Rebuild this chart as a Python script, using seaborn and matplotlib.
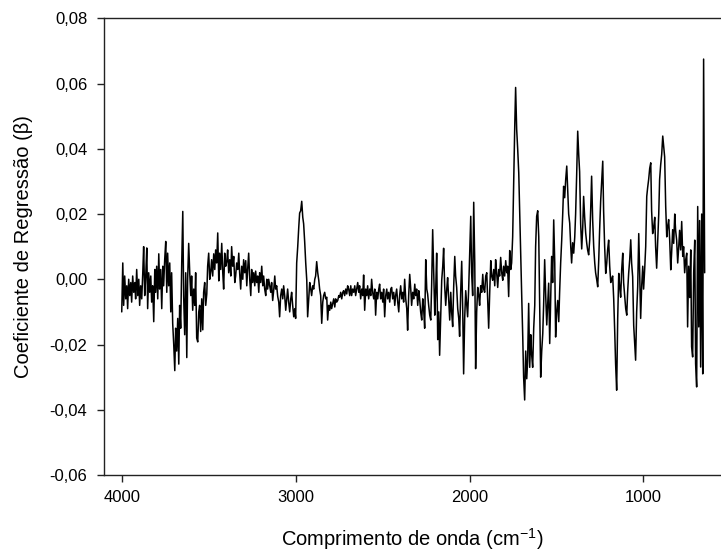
import matplotlib
matplotlib.use("Agg")
import matplotlib.pyplot as plt
import numpy as np
import pandas as pd
import seaborn as sns

# ---------------- data ----------------
# O-H / 4000-3000 region
wn_oh = [
    4000, 3994, 3989, 3983, 3977, 3971, 3966, 3960,
    3954, 3948, 3943, 3937, 3931, 3925, 3920, 3914,
    3908, 3902, 3897, 3891, 3885, 3879, 3874, 3868,
    3862, 3856, 3851, 3845, 3839, 3833, 3828, 3822,
    3816, 3810, 3805, 3799, 3793, 3787, 3782, 3776,
    3770, 3764, 3759, 3753, 3747, 3741, 3736, 3730,
    3724, 3718, 3713, 3707, 3701, 3695, 3690, 3684,
    3678, 3672, 3667, 3661, 3655, 3649, 3644, 3638,
    3632, 3626, 3621, 3615, 3609, 3603, 3598, 3592,
    3586, 3580, 3575, 3569, 3563, 3557, 3552, 3546,
    3540, 3534, 3529, 3523, 3517, 3511, 3506, 3500,
    3494, 3488, 3483, 3477, 3471, 3465, 3460, 3454,
    3448, 3442, 3437, 3431, 3425, 3419, 3414, 3408,
    3402, 3396, 3391, 3385, 3379, 3373, 3368, 3362,
    3356, 3350, 3345, 3339, 3333, 3327, 3322, 3316,
    3310, 3304, 3299, 3293, 3287, 3281, 3276, 3270,
    3264, 3258, 3253, 3247, 3241, 3235, 3230, 3224,
    3218, 3212, 3207, 3201, 3195, 3189, 3184, 3178,
    3172, 3166, 3161, 3155, 3149, 3143, 3138, 3132,
    3126, 3120, 3115, 3109, 3103, 3097, 3092, 3086,
    3080, 3074, 3069, 3063, 3057, 3051, 3046, 3040,
    3034, 3028, 3023, 3017, 3011, 3005, 3000,
]
beta_oh = [
    -0.010, 0.005, -0.008, 0.001, -0.006, -0.002, -0.009, 0.000, -0.005, -0.001,
    -0.007, 0.001, -0.004, -0.001, -0.006, 0.003, -0.005, 0.000, -0.008, -0.002,
    -0.006, 0.002, 0.010, -0.005, 0.001, 0.0096, -0.009, 0.002, -0.004, 0.001,
    -0.007, -0.002, -0.013, 0.003, -0.004, 0.004, -0.006, 0.0078, -0.003, 0.003,
    -0.009, 0.004, -0.002, 0.006, 0.0116, -0.004, 0.008, -0.002, 0.005, -0.010,
    0.002, -0.0135, -0.020, -0.028, -0.015, -0.022, -0.012, -0.026, -0.008, -0.015,
    0.005, 0.0208, -0.005, -0.017, 0.002, -0.024, 0.000, 0.011, 0.002, -0.005,
    0.001, -0.0095, -0.003, -0.008, 0.002, -0.018, -0.0192, -0.010, -0.008, -0.016,
    -0.006, -0.0155, -0.004, -0.001, -0.008, -0.0045, 0.004, 0.008, 0.000, 0.0025,
    0.006, 0.001, 0.0078, 0.003, 0.009, 0.005, 0.0142, -0.0005, 0.008, 0.003,
    0.011, 0.002, -0.003, 0.008, 0.004, 0.0055, 0.009, 0.002, 0.006, 0.001,
    0.010, 0.004, 0.007, -0.001, 0.001, 0.005, 0.003, 0.008, 0.002, -0.003,
    0.004, 0.000, 0.006, 0.002, 0.0057, -0.002, 0.003, 0.008, 0.000, -0.005,
    0.003, -0.001, 0.002, -0.002, 0.0025, -0.001, 0.001, -0.004, 0.002, -0.001,
    0.004, -0.002, 0.001, -0.003, -0.005, 0.000, -0.003, 0.000, -0.002, -0.004,
    -0.001, -0.0065, -0.0033, 0.001, -0.003, -0.002, -0.0053, -0.007, -0.0115, -0.005,
    -0.003, -0.006, -0.002, -0.005, -0.0095, -0.006, -0.003, -0.007, -0.010, -0.006,
    -0.004, -0.008, -0.0115, -0.009, -0.012,
]

# C-H / 3000-2630 region
wn_ch = [
    2994,
    2988, 2982, 2977, 2971, 2965, 2959, 2954, 2948,
    2942, 2936, 2931, 2925, 2919, 2913, 2908, 2902,
    2896, 2890, 2885, 2879, 2873, 2867, 2862, 2856,
    2850, 2844, 2839, 2833, 2827, 2821, 2816, 2810,
    2804, 2798, 2793, 2787, 2781, 2775, 2770, 2764,
    2758, 2752, 2747, 2741, 2735, 2729, 2724, 2718,
    2712, 2706, 2701, 2695, 2689, 2683, 2678, 2672,
    2666, 2660, 2655, 2649, 2643, 2637, 2632,
]
beta_ch = [
    0.005, 0.010, 0.016, 0.0203, 0.021, 0.0239, 0.019, 0.017, 0.0115, 0.005,
    -0.0003, -0.0115, -0.006, -0.001, -0.003, -0.005, -0.002, -0.003, 0.000, 0.001,
    0.0054, 0.002, -0.0003, -0.003, -0.005, -0.0135, -0.007, -0.005, -0.004, -0.006,
    -0.0055, -0.0125, -0.008, -0.0095, -0.007, -0.009, -0.0075, -0.006, -0.0085, -0.006,
    -0.007, -0.0065, -0.005, -0.0055, -0.004, -0.006, -0.004, -0.0035, -0.005, -0.003,
    -0.0045, -0.002, -0.003, -0.005, -0.002, -0.005, -0.003, -0.004, -0.002, -0.005,
    -0.003, -0.001, -0.004, -0.002,
]

# 2630-1760 region
wn_mid = [
    2626,
    2620, 2614, 2609, 2603, 2597, 2591, 2586, 2580,
    2574, 2568, 2563, 2557, 2551, 2545, 2540, 2534,
    2528, 2522, 2517, 2511, 2505, 2499, 2494, 2488,
    2482, 2476, 2471, 2465, 2459, 2453, 2448, 2442,
    2436, 2430, 2425, 2419, 2413, 2407, 2402, 2396,
    2390, 2384, 2379, 2373, 2367, 2361, 2356, 2350,
    2344, 2338, 2333, 2327, 2321, 2315, 2310, 2304,
    2298, 2292, 2287, 2281, 2275, 2269, 2264, 2258,
    2252, 2246, 2241, 2235, 2229, 2223, 2218, 2212,
    2206, 2200, 2195, 2189, 2183, 2177, 2172, 2166,
    2160, 2154, 2149, 2143, 2137, 2131, 2126, 2120,
    2114, 2108, 2103, 2097, 2091, 2085, 2080, 2074,
    2068, 2062, 2057, 2051, 2045, 2039, 2034, 2028,
    2022, 2016, 2011, 2005, 1999, 1993, 1988, 1982,
    1976, 1970, 1965, 1959, 1953, 1947, 1942, 1936,
    1930, 1924, 1919, 1913, 1907, 1901, 1896, 1890,
    1884, 1878, 1873, 1867, 1861, 1855, 1850, 1844,
    1838, 1832, 1827, 1821, 1815, 1809, 1804, 1798,
    1792, 1786, 1781, 1775, 1769, 1763, 1758,
]
beta_mid = [
    -0.006, -0.003, -0.005, 0.0013, -0.0095, -0.003, -0.005, -0.002, -0.006, -0.003,
    -0.005, 0.000, -0.004, -0.006, -0.003, -0.011, -0.004, -0.006, -0.003, -0.0015,
    -0.006, -0.004, -0.007, -0.003, -0.0115, -0.005, -0.003, -0.006, -0.004, -0.007,
    -0.003, -0.0025, -0.006, -0.004, -0.008, -0.005, -0.003, -0.007, -0.010, -0.005,
    -0.002, -0.006, -0.004, -0.007, 0.000, -0.006, -0.009, -0.0156, -0.005, 0.0015,
    -0.003, -0.008, -0.004, -0.006, -0.0015, -0.005, -0.003, -0.008, -0.0035, -0.006,
    -0.010, -0.0125, -0.006, -0.009, -0.015, 0.006, -0.003, -0.0045, -0.008, -0.011,
    -0.0125, -0.002, 0.0152, 0.002, -0.011, -0.004, 0.008, -0.0185, -0.010, -0.0233,
    -0.012, -0.0003, 0.004, 0.0095, -0.002, -0.008, -0.003, 0.0005, -0.006, -0.0125,
    -0.004, -0.010, -0.0145, -0.002, 0.007, 0.001, -0.0025, -0.009, -0.012, -0.0175,
    -0.004, 0.0055, -0.010, -0.029, -0.012, -0.0035, -0.008, -0.0115, -0.003, 0.008,
    0.0193, 0.002, -0.005, 0.0236, 0.005, -0.0274, -0.010, -0.0025, -0.005, -0.008,
    -0.002, -0.004, 0.0015, -0.003, -0.004, 0.001, 0.002, -0.006, -0.015, -0.004,
    0.0057, 0.001, -0.0003, 0.003, -0.002, 0.006, 0.002, -0.0025, 0.003, 0.001,
    0.0067, 0.002, -0.0003, 0.004, 0.001, 0.0057, 0.002, 0.004, -0.0053, 0.0088,
    0.003, 0.005,
]

# fingerprint region 1760-650
wn_fp = [
    1752,
    1746, 1740, 1735, 1729, 1723, 1717, 1712, 1706,
    1700, 1694, 1689, 1683, 1677, 1671, 1666, 1660,
    1654, 1648, 1643, 1637, 1631, 1625, 1620, 1614,
    1608, 1602, 1597, 1591, 1585, 1579, 1574, 1568,
    1562, 1556, 1551, 1545, 1539, 1533, 1528, 1522,
    1516, 1510, 1505, 1499, 1493, 1487, 1482, 1476,
    1470, 1464, 1459, 1453, 1447, 1441, 1436, 1430,
    1424, 1418, 1413, 1407, 1401, 1395, 1390, 1384,
    1378, 1372, 1367, 1361, 1355, 1349, 1344, 1338,
    1332, 1326, 1321, 1315, 1309, 1303, 1298, 1292,
    1286, 1280, 1275, 1269, 1263, 1257, 1252, 1246,
    1240, 1234, 1229, 1223, 1217, 1211, 1206, 1200,
    1194, 1188, 1183, 1177, 1171, 1165, 1160, 1154,
    1148, 1142, 1137, 1131, 1125, 1119, 1114, 1108,
    1102, 1096, 1091, 1085, 1079, 1073, 1068, 1062,
    1056, 1050, 1045, 1039, 1033, 1027, 1022, 1016,
    1010, 1004, 999, 993, 987, 981, 976, 970,
    964, 958, 953, 947, 941, 935, 930, 924,
    918, 912, 907, 901, 895, 889, 884, 878,
    872, 866, 861, 855, 849, 843, 838, 832,
    826, 820, 815, 809, 803, 797, 792, 786,
    780, 774, 769, 763, 757, 751, 746, 740,
    734, 728, 723, 717, 711, 705, 700, 694,
    688, 682, 677, 671, 665, 659, 654, 648,
]
beta_fp = [
    0.013, 0.030, 0.047, 0.0588, 0.046, 0.0398, 0.0326, 0.0213, 0.009, -0.005,
    -0.0177, -0.030, -0.037, -0.022, -0.0305, -0.025, -0.0074, -0.027, -0.017, -0.023,
    -0.027, -0.015, -0.008, 0.010, 0.0193, 0.021, 0.013, -0.0074, -0.030, -0.022,
    -0.0167, -0.008, 0.006, -0.005, -0.014, -0.008, -0.0012, -0.0197, -0.005, 0.007,
    -0.001, 0.0182, 0.005, -0.0177, -0.010, -0.0065, -0.013, -0.004, 0.005, 0.012,
    0.0203, 0.0285, 0.025, 0.0306, 0.0347, 0.028, 0.020, 0.0172, 0.010, 0.005,
    0.0112, 0.008, 0.013, 0.020, 0.032, 0.0454, 0.038, 0.033, 0.017, 0.0093,
    0.016, 0.0254, 0.019, 0.0141, 0.011, 0.009, 0.0075, 0.012, 0.022, 0.0316,
    0.0182, 0.010, 0.005, 0.002, 0.000, -0.0023, 0.006, 0.015, 0.024, 0.030,
    0.0362, 0.021, 0.010, 0.0018, 0.005, 0.009, 0.012, 0.004, -0.001, 0.000,
    0.001, -0.006, -0.0163, -0.026, -0.034, -0.012, 0.0018, -0.002, -0.0055, 0.003,
    0.008, -0.001, -0.005, -0.009, -0.011, -0.004, 0.0018, 0.006, 0.0121, 0.005,
    0.0008, -0.0142, -0.020, -0.0248, -0.010, -0.0023, 0.014, 0.003, -0.012, -0.002,
    0.004, -0.003, 0.003, 0.010, 0.0254, 0.028, 0.0306, 0.034, 0.0357, 0.021,
    0.014, 0.016, 0.019, 0.010, 0.0034, 0.012, 0.020, 0.0306, 0.035, 0.0383,
    0.0439, 0.041, 0.0375, 0.0223, 0.013, 0.016, 0.0183, 0.012, 0.0029, 0.008,
    0.0152, 0.011, 0.020, 0.015, 0.012, 0.005, 0.010, 0.015, 0.009, 0.0177,
    0.007, 0.010, 0.002, 0.006, 0.008, -0.0146, 0.004, -0.0056, 0.009, -0.0207,
    -0.0238, 0.002, 0.012, -0.0259, -0.033, 0.0223, -0.0146, 0.018, -0.0269, 0.020,
    -0.029, 0.0675, 0.002,
]

x_ticks = [4000, 3000, 2000, 1000]
x_tick_labels = ["4000", "3000", "2000", "1000"]
y_ticks = [-0.06, -0.04, -0.02, 0.00, 0.02, 0.04, 0.06, 0.08]
y_tick_labels = ["-0,06", "-0,04", "-0,02", "0,00", "0,02", "0,04", "0,06", "0,08"]

x_label = "Comprimento de onda (cm$^{\\mathregular{-1}}$)"
y_label = "Coeficiente de Regressão (β)"

# ---------------- plotting ----------------
sns.set_theme(style="ticks")
plt.rcParams["font.family"] = ["Liberation Sans", "DejaVu Sans"]
plt.rcParams["mathtext.fontset"] = "custom"
plt.rcParams["mathtext.rm"] = "Liberation Sans"
plt.rcParams["mathtext.it"] = "Liberation Sans:italic"

df = pd.DataFrame({
    "wn": wn_oh + wn_ch + wn_mid + wn_fp,
    "beta": beta_oh + beta_ch + beta_mid + beta_fp,
})

W, H = 721, 553
fig = plt.figure(figsize=(W / 100, H / 100), dpi=100)
ax = fig.add_axes([104 / W, 78 / H, 617 / W, 456.7 / H])

sns.lineplot(data=df, x="wn", y="beta", sort=False, estimator=None,
             color="black", linewidth=1.1, ax=ax)

ax.set_xlim(4102, 554)
ax.set_ylim(-0.06, 0.08)
ax.set_xticks(x_ticks)
ax.set_xticklabels(x_tick_labels)
ax.set_yticks(y_ticks)
ax.set_yticklabels(y_tick_labels)

for side in ["left", "bottom", "top"]:
    ax.spines[side].set_visible(True)
    ax.spines[side].set_color("#222222")
    ax.spines[side].set_linewidth(1.0)
ax.spines["right"].set_visible(False)

ax.tick_params(axis="both", direction="out", length=5, width=1.0,
               color="#222222", labelsize=12, labelcolor="black")
ax.tick_params(axis="y", pad=7)
ax.tick_params(axis="x", pad=6)

ax.set_xlabel(x_label, fontsize=14.5, labelpad=15, color="black")
ax.set_ylabel(y_label, fontsize=14.5, labelpad=12, color="black")

fig.savefig("out.png", dpi=100)
